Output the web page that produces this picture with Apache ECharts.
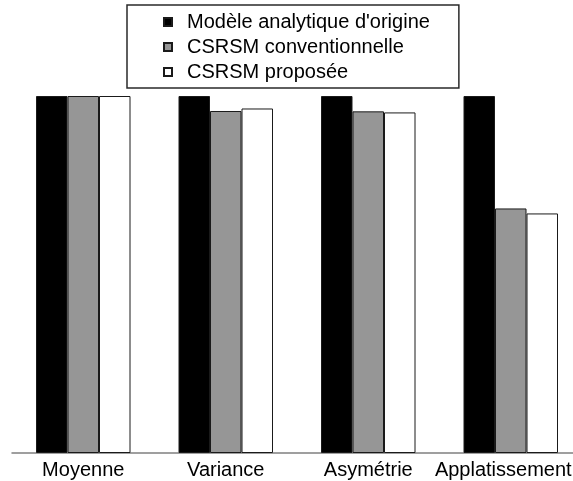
<!DOCTYPE html>
<html>
<head>
<meta charset="utf-8">
<script src="https://cdn.jsdelivr.net/npm/echarts@6/dist/echarts.min.js"></script>
<style>
  html, body { margin: 0; padding: 0; background: #ffffff; }
  #chart { width: 573px; height: 481px; }
</style>
</head>
<body>
<div id="chart"></div>
<script>
// Statistical moments, normalised to the original analytic model
const categories = ['Moyenne', 'Variance', 'Asymétrie', 'Applatissement'];
const seriesNames = ["Modèle analytique d'origine", 'CSRSM conventionnelle', 'CSRSM proposée'];
const modeleOrigine = [1.0, 1.0, 1.0, 1.0];
const csrsmConventionnelle = [1.0, 0.958, 0.957, 0.685];
const csrsmProposee = [1.0, 0.965, 0.954, 0.671];

const fontFamily = '"Liberation Sans", Arial, sans-serif';
const chart = echarts.init(document.getElementById('chart'), null, { renderer: 'canvas' });

function barSeries(name, data, color) {
  return {
    name: name,
    type: 'bar',
    data: data,
    barWidth: 31.5,
    barGap: '0%',
    itemStyle: { color: color, borderColor: '#1a1a1a', borderWidth: 1 },
    emphasis: { disabled: true },
    animation: false
  };
}

// the last label is nudged left so it stays inside the canvas
const categoryItems = categories.map(function (name, i) {
  return i === categories.length - 1
    ? { value: name, textStyle: { padding: [0, 15, 0, 0] } }
    : name;
});

chart.setOption({
  backgroundColor: '#ffffff',
  animation: false,
  // the plot runs slightly past the right edge of the canvas
  grid: { left: 12, width: 570, top: 96, bottom: 28, outerBoundsMode: 'none', containLabel: false },
  legend: {
    orient: 'vertical',
    left: 127,
    top: 5,
    padding: [7, 29, 6, 36],
    borderColor: '#2a2a2a',
    borderWidth: 1.5,
    itemWidth: 8,
    itemHeight: 8,
    itemGap: 5,
    itemTextGap: 6,
    icon: 'rect',
    data: seriesNames,
    textStyle: {
      fontFamily: fontFamily, fontSize: 20, lineHeight: 20, color: '#000000',
      padding: [0, 0, 0, 10]
    }
  },
  xAxis: {
    type: 'category',
    data: categoryItems,
    axisLine: { show: true, lineStyle: { color: '#808080', width: 1.5 } },
    axisTick: { show: false },
    axisLabel: { fontFamily: fontFamily, fontSize: 20, color: '#000000', margin: 7, interval: 0 }
  },
  yAxis: {
    type: 'value',
    min: 0,
    max: 1,
    show: false
  },
  series: [
    barSeries(seriesNames[0], modeleOrigine, '#000000'),
    barSeries(seriesNames[1], csrsmConventionnelle, '#969696'),
    barSeries(seriesNames[2], csrsmProposee, '#ffffff')
  ]
});
</script>
</body>
</html>
